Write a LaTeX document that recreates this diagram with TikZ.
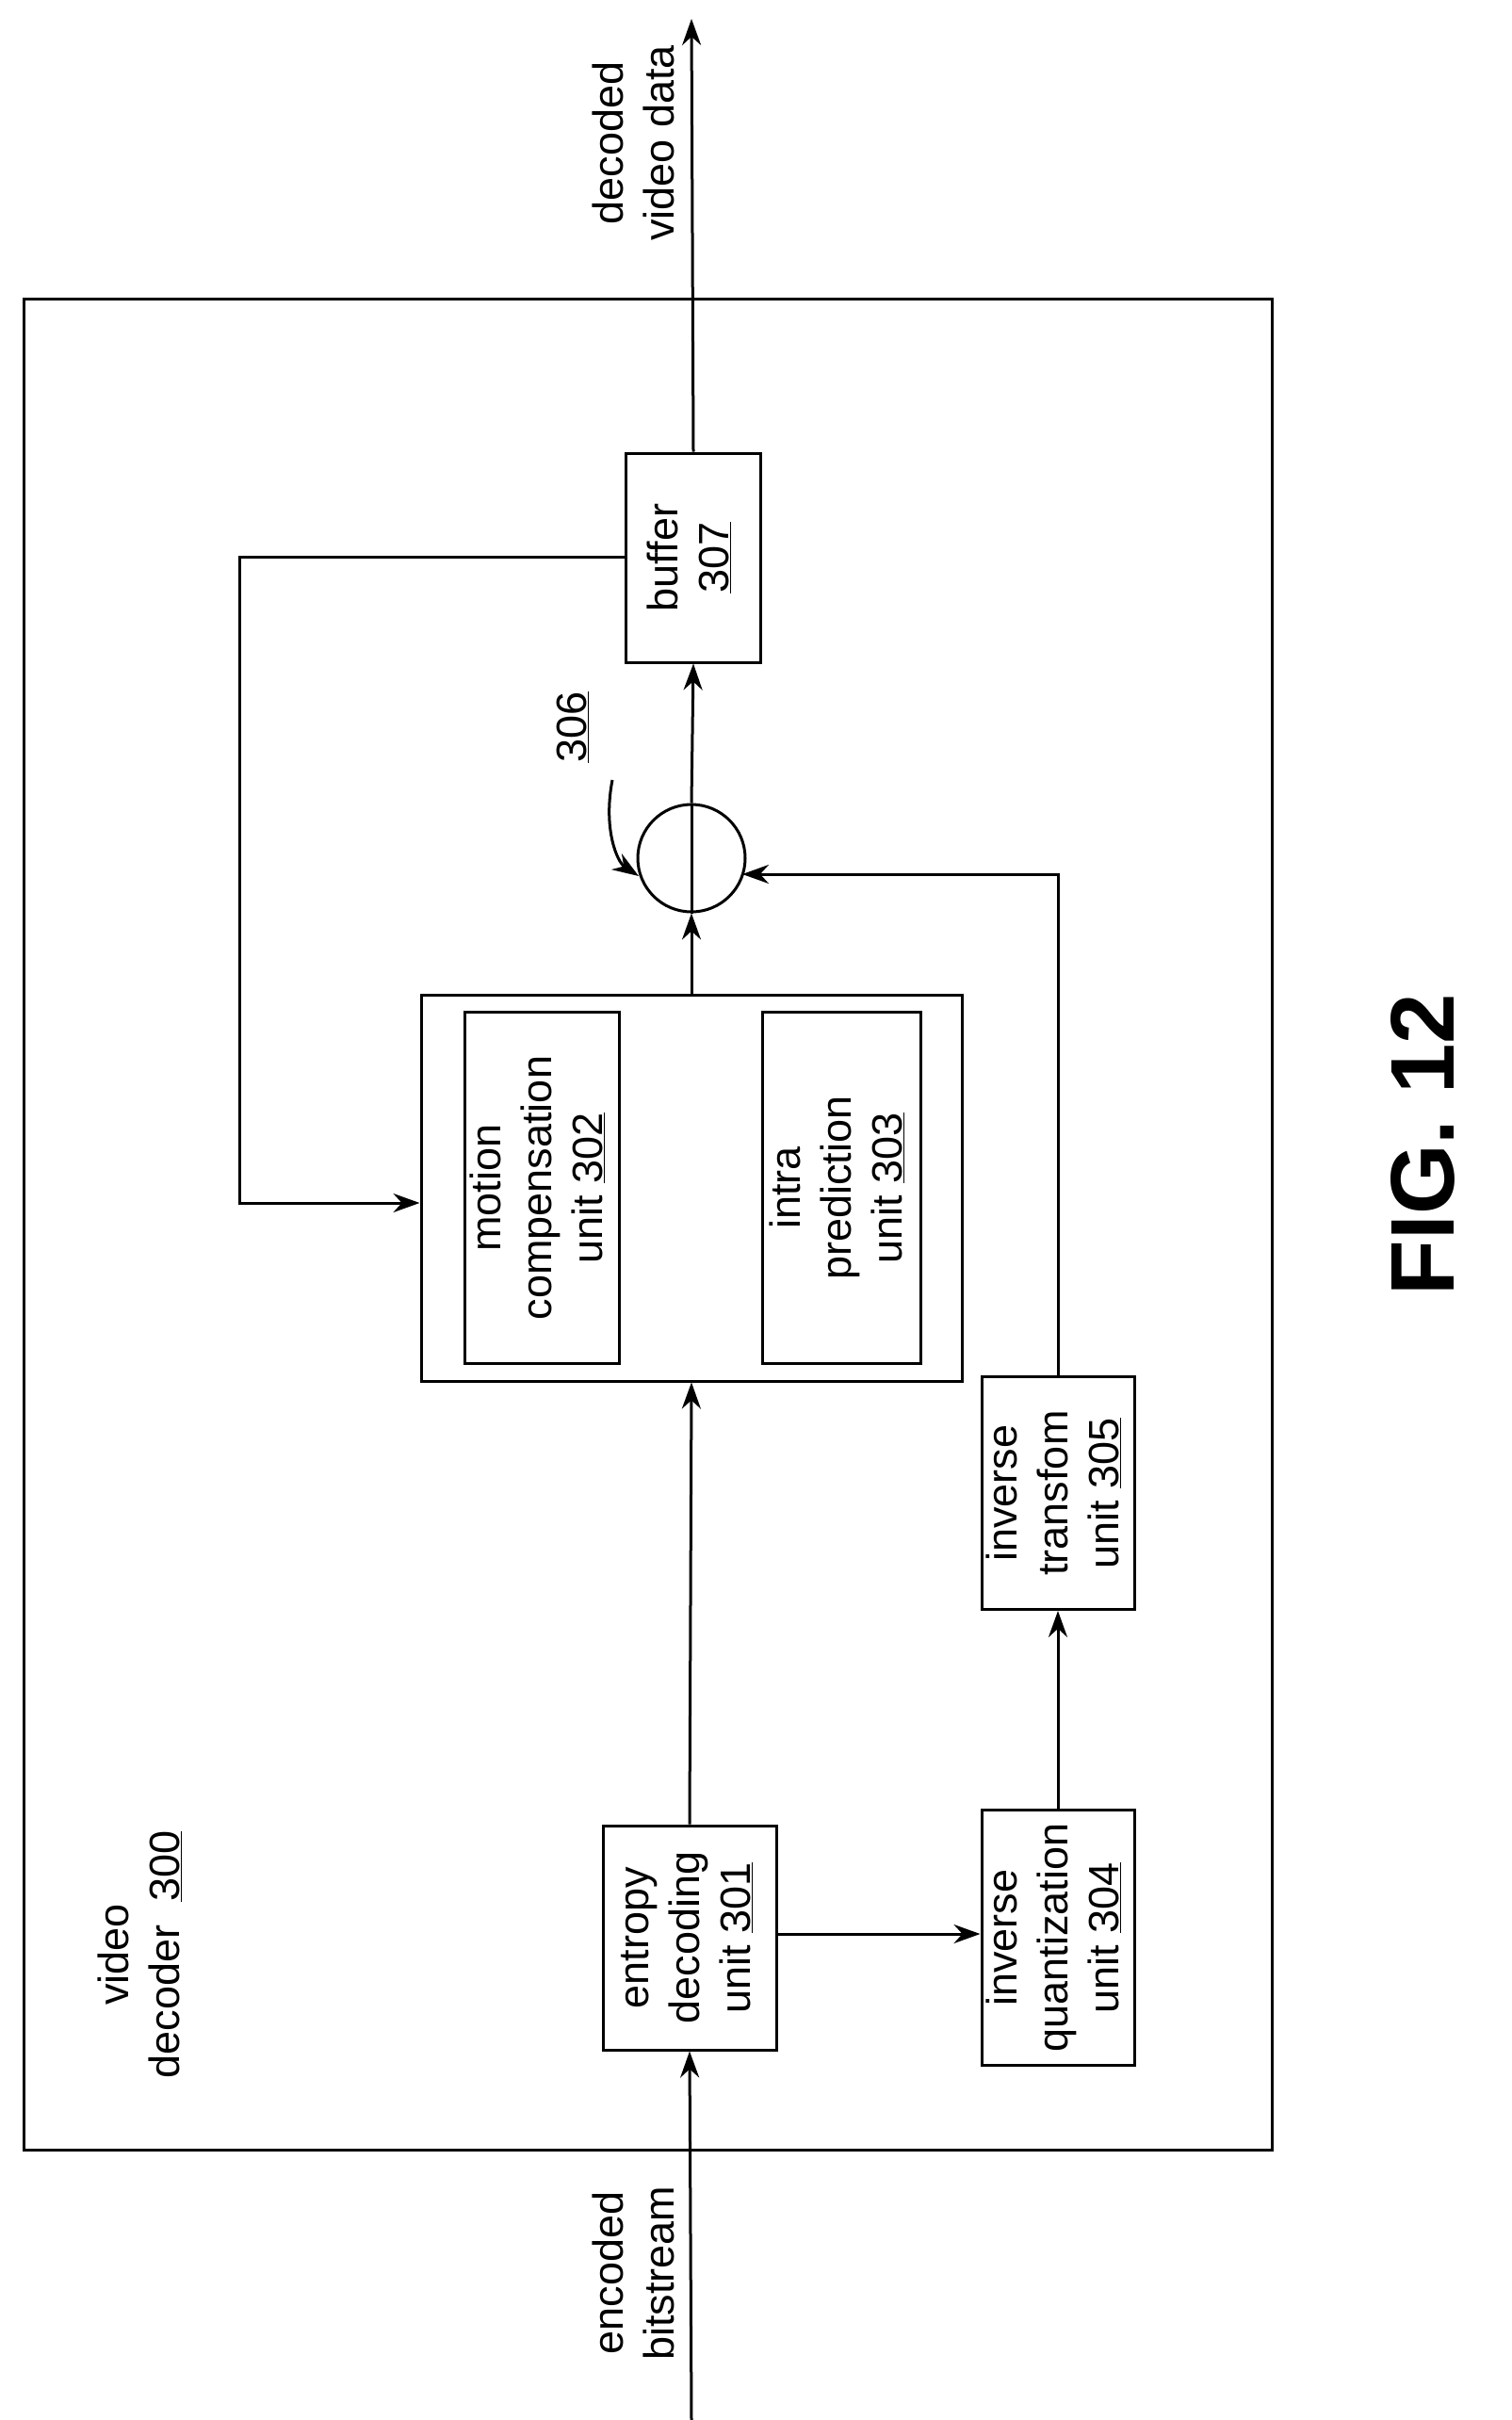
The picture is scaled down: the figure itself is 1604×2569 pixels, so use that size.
\documentclass[tikz,border=0pt]{standalone}
\usepackage{fontspec}
\setmainfont{Liberation Sans}
\usetikzlibrary{arrows.meta}
\begin{document}
\begin{tikzpicture}[x=1pt,y=-1pt,
  line width=3pt,
  >={Stealth[length=28pt,width=20pt]},
  box/.style={draw,rectangle,inner sep=0pt},
  lbl/.style={font=\fontsize{45}{54}\selectfont}]
\useasboundingbox (0,0) rectangle (1604,2569);
\newcommand{\rt}[1]{\rotatebox{90}{\begin{tabular}{@{}c@{}}#1\end{tabular}}}
\draw (25,317) rectangle (1350,2282);
\node[box,minimum width=184pt,minimum height=238pt,lbl] (ed) at (732,2057) {\rt{entropy\\decoding\\unit \underline{301}}};
\node[box,minimum width=151pt,minimum height=271pt,lbl] (iq) at (1123,2057) {\rt{inverse\\quantization\\unit \underline{304}}};
\node[box,minimum width=148pt,minimum height=247pt,lbl] (it) at (1123,1585) {\rt{inverse\\transfom\\unit \underline{305}}};
\node[box,minimum width=574pt,minimum height=410pt] (big) at (734,1261) {};
\node[box,minimum width=164pt,minimum height=373pt,lbl] (mc) at (575,1261) {\rt{motion\\compensation\\unit \underline{302}}};
\node[box,minimum width=168pt,minimum height=373pt,lbl] (ip) at (893,1261) {\rt{intra\\prediction\\unit \underline{303}}};
\node[draw,circle,minimum size=114pt,inner sep=0pt] (add) at (734,911) {};
\draw (add.north) -- (add.south);
\node[box,minimum width=143pt,minimum height=222pt,lbl] (buf) at (736,592) {\rt{buffer\\\underline{307}}};
\coordinate (in) at (734,2569);
\coordinate (out) at (734,20);
\draw[->] (in) -- (ed.south);
\draw[->] (ed.north) -- (big.south);
\draw[->] (big.north) -- (add.south);
\draw[->] (add.north) -- (buf.south);
\draw[->] (buf.north) -- (out);
\coordinate (fb1) at (254,591);
\coordinate (fb2) at (254,1277);
\draw[->] (buf.west |- fb1) -- (fb1) -- (fb2) -- (big.west |- fb2);
\draw[->] (ed.east |- 0,2053) -- (iq.west |- 0,2053);
\draw[->] (iq.north) -- (it.south);
\coordinate (c1) at (1123,928);
\draw[->] (it.north) -- (c1) -- (788,928);
\node[lbl,rotate=90] (n306) at (608,772) {\underline{306}};
\coordinate (a0) at (650,828);
\draw[->] (a0) .. controls (640,880) and (655,915) .. (678,930);
\node[lbl,rotate=90,align=center] (vd) at (148,2075) {video\\decoder \ \underline{300}};
\node[lbl,rotate=90,align=center] (eb) at (672,2413) {encoded\\bitstream};
\node[lbl,rotate=90,align=center] (dv) at (672,152) {decoded\\video data};
\node[rotate=90,font=\fontsize{96}{110}\selectfont\bfseries] (fig) at (1510,1215) {FIG. 12};
\end{tikzpicture}
\end{document}
